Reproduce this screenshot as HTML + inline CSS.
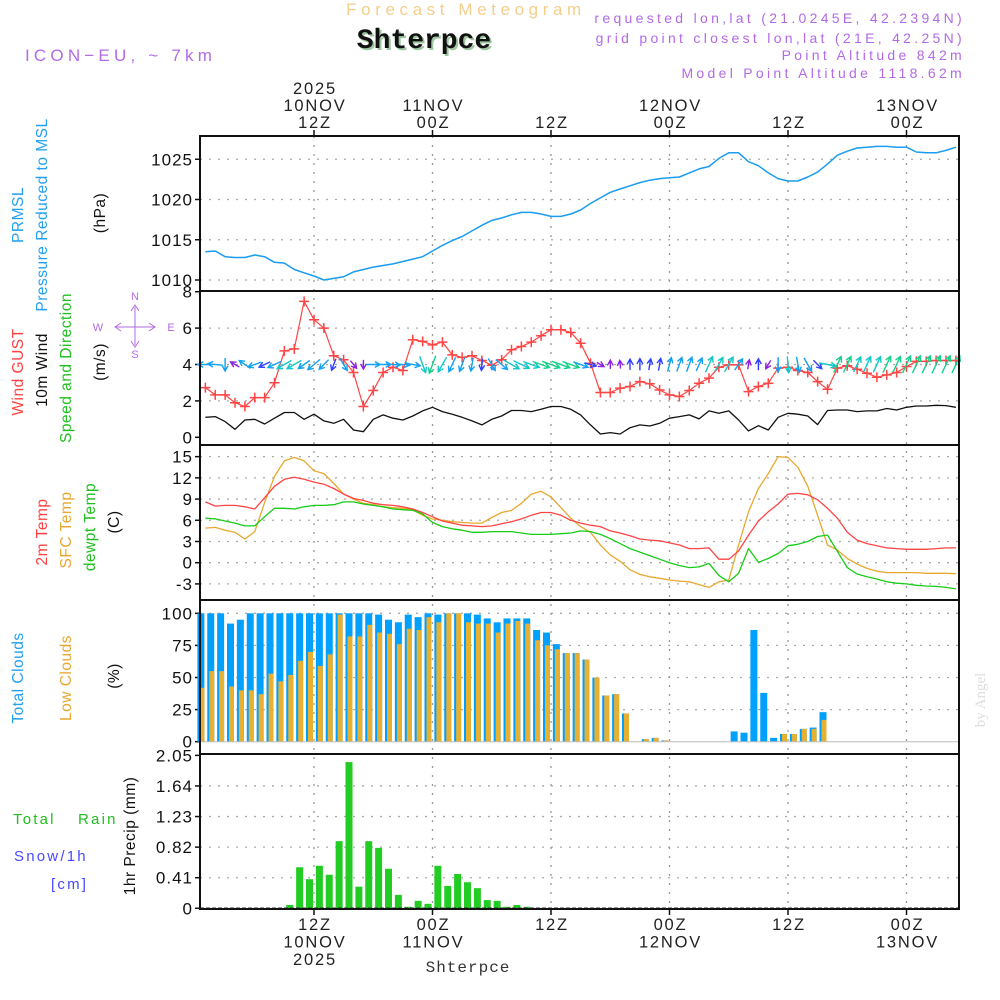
<!DOCTYPE html>
<html><head><meta charset="utf-8"><style>
html,body{margin:0;padding:0;background:#fff;}
svg{display:block;font-family:"Liberation Sans",sans-serif;}
</style></head><body>
<svg id="chart" width="1000" height="1000" viewBox="0 0 1000 1000" xmlns="http://www.w3.org/2000/svg">
<rect x="0" y="0" width="1000" height="1000" fill="#fff"/>
<text x="466" y="15" text-anchor="middle" font-size="17" letter-spacing="4.6" fill="#f3cf8a">Forecast Meteogram</text>
<text x="426" y="50" text-anchor="middle" font-family="Liberation Mono, monospace" font-weight="bold" font-size="28" fill="#9fc79f">Shterpce</text>
<text x="424" y="48" text-anchor="middle" font-family="Liberation Mono, monospace" font-weight="bold" font-size="28" fill="#111">Shterpce</text>
<text x="25" y="61" font-size="17" letter-spacing="4.2" fill="#b36ae6">ICON−EU, ~ 7km</text>
<g font-size="14" letter-spacing="3.3" fill="#b36ae6" text-anchor="end">
<text x="965" y="23">requested lon,lat (21.0245E, 42.2394N)</text>
<text x="965" y="43">grid point closest lon,lat (21E, 42.25N)</text>
<text x="965" y="60">Point Altitude 842m</text>
<text x="965" y="78">Model Point Altitude 1118.62m</text>
</g>
<text x="985" y="700" transform="rotate(-90 985 700)" text-anchor="middle" font-family="Liberation Serif, serif" font-size="15" fill="#ddd">by Angel</text>
<text x="468" y="972" text-anchor="middle" font-family="Liberation Mono, monospace" font-size="16" letter-spacing="1" fill="#333">Shterpce</text>

<g font-size="15.5" letter-spacing="0.5" text-anchor="middle">
<text transform="translate(23,215) rotate(-90)" fill="#22a0f0">PRMSL</text>
<text transform="translate(47,215) rotate(-90)" fill="#22a0f0">Pressure Reduced to MSL</text>
<text transform="translate(105,213) rotate(-90)" fill="#111">(hPa)</text>
<text transform="translate(23,372) rotate(-90)" fill="#ff4040">Wind GUST</text>
<text transform="translate(47,370) rotate(-90)" fill="#111">10m Wind</text>
<text transform="translate(71,368) rotate(-90)" fill="#20c020">Speed and Direction</text>
<text transform="translate(105,362) rotate(-90)" fill="#111">(m/s)</text>
<text transform="translate(47,532) rotate(-90)" fill="#ff4040">2m Temp</text>
<text transform="translate(71,530) rotate(-90)" fill="#e8a830">SFC Temp</text>
<text transform="translate(95,527) rotate(-90)" fill="#20c020">dewpt Temp</text>
<text transform="translate(119,522) rotate(-90)" fill="#111">(C)</text>
<text transform="translate(23,678) rotate(-90)" fill="#22a0f0">Total Clouds</text>
<text transform="translate(71,678) rotate(-90)" fill="#e8a830">Low Clouds</text>
<text transform="translate(119,676) rotate(-90)" fill="#111">(%)</text>
<text transform="translate(135,836) rotate(-90)" fill="#111">1hr Precip (mm)</text>
</g>
<g font-size="15" letter-spacing="2.2">
<text x="13" y="824" fill="#20c020">Total</text>
<text x="78" y="824" fill="#20c020">Rain</text>
<text x="14" y="861" fill="#4848ff">Snow/1h</text>
<text x="51" y="889" fill="#4848ff">[cm]</text>
</g>
<g stroke="#b36ae6" stroke-width="1" fill="none">
<line x1="115" y1="327" x2="155" y2="327"/><line x1="135" y1="307" x2="135" y2="345"/>
<polyline points="121,323 115,327 121,331"/><polyline points="149,323 155,327 149,331"/>
<polyline points="131,311 135,305 139,311"/><polyline points="131,341 135,347 139,341"/>
</g>
<g font-size="11" fill="#b36ae6" text-anchor="middle">
<text x="135" y="300">N</text>
<text x="135" y="358">S</text>
<text x="98" y="331">W</text>
<text x="171" y="331">E</text>
</g>
<g id="plots"></g>
</svg>
<script>
const hours = [];
for (let h = 1; h <= 77; h++) hours.push(h);
const pressure = [1013.5,1013.6,1012.9,1012.8,1012.8,1013.1,1012.9,1012.2,1012.1,1011.3,1010.9,1010.5,1010.0,1010.2,1010.4,1011.0,1011.3,1011.6,1011.8,1012.0,1012.3,1012.6,1012.9,1013.6,1014.3,1014.9,1015.4,1016.1,1016.8,1017.4,1017.7,1018.1,1018.4,1018.4,1018.2,1017.9,1017.9,1018.2,1018.7,1019.5,1020.2,1020.9,1021.3,1021.7,1022.1,1022.4,1022.6,1022.7,1022.8,1023.3,1023.8,1024.1,1025.1,1025.8,1025.8,1024.7,1024.2,1023.3,1022.6,1022.3,1022.3,1022.8,1023.4,1024.4,1025.5,1026.0,1026.4,1026.5,1026.6,1026.6,1026.5,1026.5,1025.9,1025.8,1025.8,1026.1,1026.5];
const gust = [2.73,2.33,2.33,1.9,1.69,2.18,2.18,3.0,4.75,4.86,7.47,6.46,6.0,4.48,4.26,3.56,1.69,2.57,3.56,3.85,3.67,5.36,5.27,5.08,5.23,4.53,4.39,4.48,4.22,3.96,4.26,4.81,4.99,5.23,5.58,5.91,5.91,5.76,5.17,4.07,2.46,2.46,2.7,2.79,3.06,2.94,2.6,2.33,2.24,2.57,2.97,3.25,3.85,3.98,3.98,2.51,2.79,2.97,3.8,3.85,3.67,3.56,3.06,2.64,3.8,3.93,3.74,3.52,3.3,3.43,3.56,3.89,4.17,4.17,4.22,4.22,4.22];
const windSpeed = [1.1,1.14,0.86,0.44,0.95,0.99,0.73,1.05,1.36,1.36,0.99,1.27,0.9,0.77,0.99,0.4,0.31,0.99,1.23,1.05,0.95,1.17,1.45,1.65,1.41,1.27,1.1,0.9,0.68,0.99,1.17,1.47,1.47,1.41,1.54,1.69,1.69,1.54,1.23,0.68,0.18,0.26,0.18,0.53,0.68,0.62,0.77,1.05,1.14,1.23,1.01,1.45,1.32,1.45,0.95,0.35,0.64,0.4,1.1,1.32,1.27,1.17,0.7,1.47,1.5,1.5,1.41,1.45,1.45,1.58,1.5,1.65,1.72,1.72,1.76,1.74,1.65];
const windToward = [180,175,270,150,145,200,205,205,210,210,215,220,225,250,300,310,270,0,0,355,355,350,290,250,240,245,250,260,265,300,320,330,335,340,340,340,340,340,340,345,330,90,95,90,90,80,80,75,70,70,65,65,60,60,55,80,90,240,270,275,280,300,315,350,65,65,65,65,65,65,65,65,65,65,65,65,65];
const temp2m = [8.6,8.0,8.1,8.1,7.9,7.6,9.2,10.8,11.8,12.1,11.8,11.4,11.1,10.5,9.7,9.1,8.8,8.4,8.2,8.1,7.9,7.6,7.1,6.5,5.9,5.6,5.3,5.2,5.1,5.2,5.5,5.8,6.2,6.7,7.1,7.1,6.7,6.0,5.6,5.3,5.1,4.5,4.2,3.8,3.35,3.2,3.1,2.8,2.5,2.0,2.0,2.1,0.5,0.5,1.65,3.9,5.9,7.2,8.3,9.7,9.8,9.6,8.9,7.7,6.3,4.3,3.2,2.7,2.4,2.1,2.0,1.9,1.9,1.9,2.0,2.1,2.1];
const tempSfc = [4.9,5.0,4.6,4.3,3.35,4.4,8.5,12.2,14.4,14.9,14.4,13.0,12.6,11.2,9.7,9.0,8.4,8.2,7.9,7.8,7.7,7.5,6.7,6.2,6.0,5.8,5.7,5.6,5.6,6.4,7.1,7.4,8.4,9.7,10.1,9.3,7.8,6.3,5.1,4.3,2.5,1.1,0.2,-1.0,-1.65,-2.0,-2.2,-2.45,-2.6,-2.7,-3.1,-3.5,-2.7,-2.45,2.5,7.2,10.5,12.6,15.0,14.9,13.5,10.8,6.7,2.5,1.8,0.6,-0.2,-0.8,-1.2,-1.4,-1.4,-1.4,-1.4,-1.5,-1.5,-1.5,-1.55];
const dewpoint = [6.3,6.2,5.9,5.6,5.2,5.2,6.5,7.7,7.7,7.6,7.9,8.1,8.1,8.2,8.6,8.6,8.3,8.1,7.9,7.6,7.5,7.4,6.9,5.7,5.1,4.8,4.6,4.3,4.3,4.4,4.4,4.4,4.2,4.0,4.0,4.0,4.1,4.2,4.5,4.4,4.0,3.4,2.7,2.0,1.5,1.0,0.5,0.0,-0.4,-0.7,-0.6,-0.1,-1.8,-2.7,-1.5,2.0,0.05,0.6,1.3,2.4,2.6,3.0,3.7,3.9,1.6,-0.7,-1.6,-2.0,-2.3,-2.7,-2.9,-3.0,-3.2,-3.3,-3.35,-3.5,-3.7];
const totalClouds = [100,100,100,92,95,100,100,100,100,100,100,100,100,100,100,100,100,100,99,95,93,99,97,100,99,100,100,100,99,96,93,96,96,96,87,85,76,69,69,64,50,36,37,22,0,2,3,1,0,0,0,0,0,0,8,7,87,38,3,6,6,10,11,23,0,0,0,0,0,0,0,0,0,0,0,0,0];
const lowClouds = [42,55,55,43,40,40,37,53,47,52,63,70,59,68,99,82,82,91,85,84,76,88,87,97,93,100,100,93,92,92,85,92,94,92,79,75,72,69,69,64,50,36,37,22,0,2,3,1,0,0,0,0,0,0,0,0,0,0,0,6,6,10,10,17,0,0,0,0,0,0,0,0,0,0,0,0,0];
const precip = [0,0,0,0,0,0,0,0,0,0.045,0.55,0.39,0.57,0.45,0.90,1.96,0.29,0.90,0.81,0.53,0.18,0.02,0.10,0.06,0.57,0.30,0.46,0.35,0.27,0.11,0.10,0.02,0.045,0.02,0,0,0,0,0,0,0,0,0,0,0,0,0,0,0,0,0,0,0,0,0,0,0,0,0,0,0,0,0,0,0,0,0,0,0,0,0,0,0,0,0,0,0];
const pressTicks = [1010,1015,1020,1025];
const windTicks = [0,2,4,6,8];
const tempTicks = [-3,0,3,6,9,12,15];
const cloudTicks = [0,25,50,75,100];
const precipTicks = ["0","0.41","0.82","1.23","1.64","2.05"];
const timeTickHours = [12,24,36,48,60,72];
const topLabels = [["2025","10NOV","12Z"],["11NOV","00Z"],["12Z"],["12NOV","00Z"],["12Z"],["13NOV","00Z"]];
const bottomLabels = [["12Z","10NOV","2025"],["00Z","11NOV"],["12Z"],["00Z","12NOV"],["12Z"],["00Z","13NOV"]];

const NS = "http://www.w3.org/2000/svg";
const root = document.getElementById('plots');
const X0 = 200, X1 = 959;
function xh(h){ return 314 + (h - 12) * 9.875; }
function mk(tag, attrs, parent){ const e = document.createElementNS(NS, tag); for (const k in attrs) e.setAttribute(k, attrs[k]); (parent||root).appendChild(e); return e; }
const yP = v => 280 - (v - 1010) * 8.05;
const yW = v => 437.3 - v * 18.2;
const yT = v => 562.7 - v * 7.07;
const yC = v => 741.7 - v * 1.284;
const yR = v => 908.3 - v * 74.6;
const panels = [[136,291],[291,445],[445,600],[600,754],[754,909]];

function hgrid(y){ const l = mk('line',{x1:X0,x2:X1,y1:y,y2:y,stroke:'#aaa','stroke-width':1.3,'stroke-dasharray':'2 7'});   }
function ytick(y, label, name){
  const t = mk('line',{x1:X0-5,x2:X0,y1:y,y2:y,stroke:'#111','stroke-width':1.5});
   
  const tx = mk('text',{x:X0-7,y:y+6,'text-anchor':'end','font-size':17,'letter-spacing':'1',fill:'#111'});
  tx.textContent = label;
   
}
pressTicks.forEach(v => { hgrid(yP(v)); ytick(yP(v), v, 'pressure-tick-label'); });
windTicks.forEach(v => { if (v>0 && v<8) hgrid(yW(v)); ytick(yW(v), v, 'wind-tick-label'); });
tempTicks.forEach(v => { hgrid(yT(v)); ytick(yT(v), v, 'temp-tick-label'); });
cloudTicks.forEach(v => { if (v>0) hgrid(yC(v)); ytick(yC(v), v, 'cloud-tick-label'); });
precipTicks.forEach(v => { const n = parseFloat(v); if (n>0 && n<2) hgrid(yR(n)); ytick(yR(n), v, 'precip-tick-label'); });

hours.forEach((h,i) => {
  const x = xh(h);
  if (totalClouds[i] > 0) {
    const b = mk('rect',{x:x-8,y:yC(totalClouds[i]),width:7,height:yC(0)-yC(totalClouds[i]),fill:'#00a0ff'});
     
  }
  if (lowClouds[i] > 0) {
    const b = mk('rect',{x:x-6,y:yC(lowClouds[i]),width:5,height:yC(0)-yC(lowClouds[i]),fill:'#e8b030'});
     
  }
  if (precip[i] > 0) {
    const b = mk('rect',{x:x-8,y:yR(precip[i]),width:7,height:yR(0)-yR(precip[i]),fill:'#22cc22'});
     
  }
});
const cb = mk('line',{x1:X0,x2:X1,y1:yC(0),y2:yC(0),stroke:'#bbb','stroke-width':1});
 
const pb = mk('line',{x1:X0,x2:X1,y1:yR(0),y2:yR(0),stroke:'#333','stroke-width':1.5,'stroke-dasharray':'4 2'});
 

timeTickHours.forEach((h,k) => {
  const x = xh(h);
  const g = mk('line',{x1:x,x2:x,y1:136,y2:909,stroke:'#999','stroke-width':1.3,'stroke-dasharray':'2 7'});
   
  const t1 = mk('line',{x1:x,x2:x,y1:130,y2:136,stroke:'#111','stroke-width':1.5});
   
  const t2 = mk('line',{x1:x,x2:x,y1:909,y2:915,stroke:'#111','stroke-width':1.5});
   
  const tl = topLabels[k];
  tl.forEach((s,j) => {
    const t = mk('text',{x:x+1,y:128-(tl.length-1-j)*17,'text-anchor':'middle','font-size':16.5,'letter-spacing':'1.8',fill:'#222'});
    t.textContent = s;  
  });
  bottomLabels[k].forEach((s,j) => {
    const t = mk('text',{x:x+1,y:930+j*17.5,'text-anchor':'middle','font-size':16.5,'letter-spacing':'1.8',fill:'#222'});
    t.textContent = s;  
  });
});

function line(vals, yf, color, name, w){
  const pts = hours.map((h,i) => xh(h).toFixed(1)+','+yf(vals[i]).toFixed(1)).join(' ');
  const p = mk('polyline',{points:pts,fill:'none',stroke:color,'stroke-width':w||1.4,'stroke-linejoin':'round'});
   
}
line(pressure, yP, '#1a9cf0', 'pressure-line', 1.5);
line(windSpeed, yW, '#111', 'wind-speed-line', 1.3);
line(gust, yW, '#ff4444', 'gust-line', 1.2);
hours.forEach((h,i) => {
  const x = xh(h), y = yW(gust[i]);
  const m = mk('path',{d:`M${x-5},${y}H${x+5}M${x},${y-5}V${y+5}`,stroke:'#ff4444','stroke-width':1.5});
   
});
function spdColor(s){ return s<0.45?'#8a20e0': s<0.8?'#3040ff': s<1.3?'#12a2f2': s<1.5?'#10c8c8':'#14d08a'; }
hours.forEach((h,i) => {
  const s = windSpeed[i], a = windToward[i]*Math.PI/180;
  const L = Math.max(6, 7 + 7*s);
  const cx = xh(h), cy = yW(4);
  const dx = Math.cos(a), dy = -Math.sin(a);
  const x1 = cx - dx*L/2, y1 = cy - dy*L/2, x2 = cx + dx*L/2, y2 = cy + dy*L/2;
  const hl = 6, ha = 0.5;
  const bx = Math.atan2(-dy,-dx);
  const p = `M${x1.toFixed(1)},${y1.toFixed(1)}L${x2.toFixed(1)},${y2.toFixed(1)}M${(x2+hl*Math.cos(bx+ha)).toFixed(1)},${(y2+hl*Math.sin(bx+ha)).toFixed(1)}L${x2.toFixed(1)},${y2.toFixed(1)}L${(x2+hl*Math.cos(bx-ha)).toFixed(1)},${(y2+hl*Math.sin(bx-ha)).toFixed(1)}`;
  const e = mk('path',{d:p,stroke:spdColor(s),'stroke-width':1.4,fill:'none'});
   
});
line(tempSfc, yT, '#e8a830', 'sfc-temp-line', 1.3);
line(temp2m, yT, '#ff4444', 't2m-line', 1.3);
line(dewpoint, yT, '#18cc18', 'dewpoint-line', 1.3);

panels.forEach(([a,b]) => {
  const r = mk('rect',{x:X0,y:a,width:X1-X0,height:b-a,fill:'none',stroke:'#111','stroke-width':2});
   
});
</script>
</body></html>
